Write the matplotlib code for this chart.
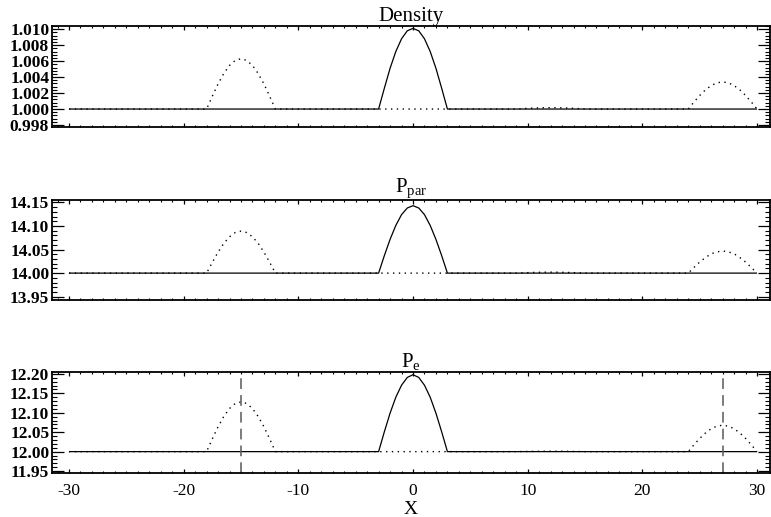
import matplotlib
matplotlib.use("Agg")
import matplotlib.pyplot as plt
from matplotlib.ticker import MultipleLocator, FormatStrFormatter

plt.rcParams['font.family'] = ['Liberation Serif', 'DejaVu Serif']
plt.rcParams['mathtext.fontset'] = 'custom'
plt.rcParams['mathtext.rm'] = 'Liberation Serif'
plt.rcParams['mathtext.it'] = 'Liberation Serif:italic'
plt.rcParams['axes.unicode_minus'] = False

# ---------------- data ----------------
titles = ['Density', r'P$_{\rm par}$', r'P$_{\rm e}$']

x_solid = [-30, -3, -2.5, -2, -1.5, -1, -0.5, 0, 0.5, 1, 1.5, 2, 2.5, 3, 30]
density_solid = [1.0, 1.0, 1.0026, 1.0051, 1.0072, 1.0088, 1.0098, 1.0101,
                 1.0098, 1.0088, 1.0072, 1.0051, 1.0026, 1.0, 1.0]
ppar_solid = [14.0, 14.0, 14.037, 14.0715, 14.101, 14.124, 14.138, 14.143,
              14.138, 14.124, 14.101, 14.0715, 14.037, 14.0, 14.0]
pe_solid = [12.0, 12.0, 12.051, 12.099, 12.14, 12.171, 12.191, 12.198,
            12.191, 12.171, 12.14, 12.099, 12.051, 12.0, 12.0]

x_dotted = [-30,
            -18, -17.5, -17, -16.5, -16, -15.5, -15, -14.5, -14, -13.5, -13, -12.5, -12,
            9, 9.5, 10, 10.5, 11, 11.5, 12, 12.5, 13, 13.5, 14, 14.5, 15,
            24, 24.5, 25, 25.5, 26, 26.5, 27, 27.5, 28, 28.5, 29, 29.5, 30]
density_dotted = [1.0,
                  1.0, 1.0016, 1.00315, 1.00445, 1.00546, 1.00609, 1.0063, 1.00609, 1.00546, 1.00445, 1.00315, 1.0016, 1.0,
                  1.0, 1.00004, 1.00009, 1.00012, 1.00015, 1.00016, 1.00017, 1.00016, 1.00015, 1.00012, 1.00009, 1.00004, 1.0,
                  1.0, 1.00088, 1.0017, 1.0024, 1.00294, 1.00328, 1.0034, 1.00328, 1.00294, 1.0024, 1.0017, 1.00088, 1.0]
ppar_dotted = [14.0,
               14.0, 14.023, 14.0445, 14.063, 14.077, 14.086, 14.089, 14.086, 14.077, 14.063, 14.0445, 14.023, 14.0,
               14.0, 14.0005, 14.001, 14.0014, 14.0017, 14.0019, 14.002, 14.0019, 14.0017, 14.0014, 14.001, 14.0005, 14.0,
               14.0, 14.012, 14.0235, 14.033, 14.041, 14.045, 14.047, 14.045, 14.041, 14.033, 14.0235, 14.012, 14.0]
pe_dotted = [12.0,
             12.0, 12.033, 12.064, 12.0905, 12.111, 12.124, 12.128, 12.124, 12.111, 12.0905, 12.064, 12.033, 12.0,
             12.0, 12.0003, 12.0005, 12.0007, 12.0009, 12.001, 12.001, 12.001, 12.0009, 12.0007, 12.0005, 12.0003, 12.0,
             12.0, 12.0176, 12.034, 12.048, 12.059, 12.0657, 12.068, 12.0657, 12.059, 12.048, 12.034, 12.0176, 12.0]

pe_markers = [-15, 27]

ylims = [(0.99775, 1.0104), (13.943, 14.155), (11.945, 12.205)]
ymajor = [0.002, 0.05, 0.05]
yfmt = ['%.3f', '%.2f', '%.2f']
xticks = [-30, -20, -10, 0, 10, 20, 30]

solids = [density_solid, ppar_solid, pe_solid]
dotteds = [density_dotted, ppar_dotted, pe_dotted]

# ---------------- figure ----------------
fig = plt.figure(figsize=(7.71, 5.17), dpi=100)
W, H = 771.0, 517.0
left, right = 52, 770
boxes = [(26, 127), (200, 300), (372, 473)]
title_pads = [3, -1.5, 0.5]

for i in range(3):
    top, bot = boxes[i]
    ax = fig.add_axes([left / W, 1 - bot / H, (right - left) / W, (bot - top) / H])
    ax.plot(x_solid, solids[i], color='black', lw=0.9, solid_capstyle='butt')
    ax.plot(x_dotted, dotteds[i], color='black', lw=1.0, linestyle=(0, (1, 3.2)))
    if i == 2:
        for xm in pe_markers:
            ax.axvline(xm, color='0.35', lw=1.1, linestyle=(0, (7, 4)))
    ax.set_xlim(-31.48, 31.13)
    ax.set_ylim(*ylims[i])
    ax.set_xticks(xticks)
    ax.xaxis.set_minor_locator(MultipleLocator(1))
    ax.yaxis.set_major_locator(MultipleLocator(ymajor[i]))
    ax.yaxis.set_minor_locator(MultipleLocator(ymajor[i] / 5))
    ax.yaxis.set_major_formatter(FormatStrFormatter(yfmt[i]))
    ax.tick_params(axis='both', which='both', direction='in', top=True, right=True,
                   labelsize=12.5, colors='black')
    ax.tick_params(axis='x', which='major', length=3, width=0.9, pad=7)
    ax.tick_params(axis='x', which='minor', length=1.5, width=0.8)
    ax.tick_params(axis='y', which='major', length=8.5, width=0.9, pad=2)
    ax.tick_params(axis='y', which='minor', length=3.8, width=0.8)
    for lab in ax.get_yticklabels():
        lab.set_fontweight('bold')
    for s in ax.spines.values():
        s.set_linewidth(1.3)
    if i < 2:
        ax.set_xticklabels([])
    else:
        ax.set_xlabel('X', fontsize=14, labelpad=2)
    ax.set_title(titles[i], fontsize=15, pad=title_pads[i])

fig.savefig('out.png', dpi=100)
